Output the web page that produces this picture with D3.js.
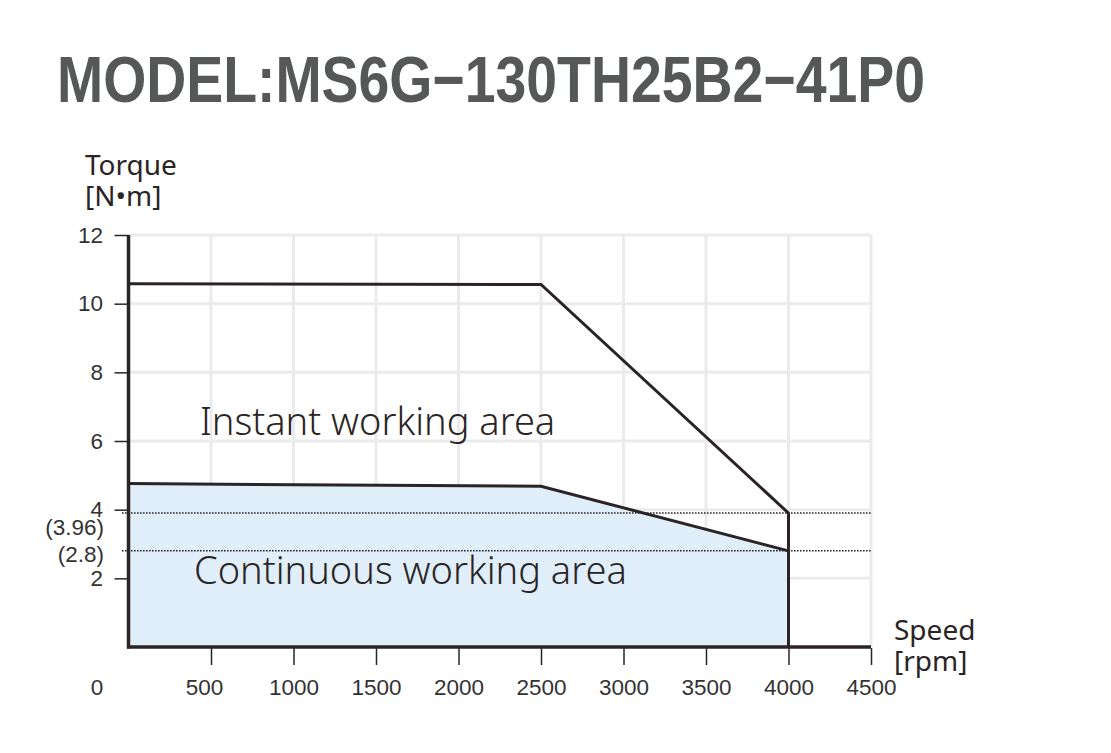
<!DOCTYPE html>
<html>
<head>
<meta charset="utf-8">
<script src="https://cdn.jsdelivr.net/npm/d3@7"></script>
<style>
  body { margin: 0; background: #fff; }
  svg { display: block; }
</style>
</head>
<body>
<svg id="chart" width="1111" height="753"></svg>
<script>
// data
const speedTicks = [500, 1000, 1500, 2000, 2500, 3000, 3500, 4000, 4500];
const torqueTicks = [2, 4, 6, 8, 10, 12];
const instantSpeed = [0, 2500, 4000, 4000];
const instantTorque = [10.58, 10.56, 3.9, 0];
const contSpeed = [0, 2500, 4000];
const contTorque = [4.76, 4.68, 2.8];
const markTorque = [3.9, 2.8];
const markLabels = ["(3.96)", "(2.8)"];

const svg = d3.select("#chart");
const x = d3.scaleLinear().domain([0, 4500]).range([128.5, 871]);
const y = d3.scaleLinear().domain([0, 12]).range([647, 235]);
const ink = "#2b2425";
const labelFont = "'Liberation Sans', Arial, sans-serif";
const lightFont = "'Noto Sans', 'Open Sans', sans-serif";
const labelSize = 22.5;

// title, stretched a little upward to match the tall caps
svg.append("text")
  .attr("transform", "translate(57,102) scale(1,1.13)")
  .attr("font-family", labelFont).attr("font-weight", "bold")
  .attr("font-size", 58).attr("fill", "#555857")
  .attr("textLength", 868).attr("lengthAdjust", "spacingAndGlyphs")
  .text("MODEL:MS6G\u2212130TH25B2\u221241P0");

// grid
const grid = svg.append("g").attr("stroke", "#ebebeb").attr("stroke-width", 3);
grid.selectAll(".gx").data(speedTicks).join("line")
  .attr("x1", d => x(d)).attr("x2", d => x(d))
  .attr("y1", y(0)).attr("y2", y(12));
grid.selectAll(".gy").data(torqueTicks).join("line")
  .attr("x1", x(0)).attr("x2", x(4500))
  .attr("y1", d => y(d)).attr("y2", d => y(d));

// continuous area fill
const contPts = contSpeed.map((s, i) => [s, contTorque[i]]);
const area = d3.area().x(d => x(d[0])).y0(y(0)).y1(d => y(d[1]));
svg.append("path").datum(contPts).attr("d", area).attr("fill", "#dfeef9");

// dotted reference lines
svg.selectAll(".mark").data(markTorque).join("line")
  .attr("x1", 122).attr("x2", x(4500))
  .attr("y1", d => y(d)).attr("y2", d => y(d))
  .attr("stroke", ink).attr("stroke-width", 1.5).attr("stroke-dasharray", "1.6,1.4");

const line = d3.line().x(d => x(d[0])).y(d => y(d[1]));
svg.append("path").datum(instantSpeed.map((s, i) => [s, instantTorque[i]]))
  .attr("d", line).attr("fill", "none").attr("stroke", ink).attr("stroke-width", 3);
svg.append("path").datum(contPts)
  .attr("d", line).attr("fill", "none").attr("stroke", ink).attr("stroke-width", 3);

// axes
const xAxis = d3.axisBottom(x).tickValues(speedTicks).tickFormat(d3.format("d")).tickSize(17).tickPadding(14);
const gx = svg.append("g").attr("transform", `translate(0,${y(0) + 1})`).call(xAxis);
gx.select(".domain").remove();
gx.selectAll(".tick line").attr("stroke", ink).attr("stroke-width", 1.5);
gx.selectAll(".tick text").attr("font-family", labelFont).attr("font-size", labelSize).attr("fill", "#333")
  .attr("dx", d => d === 500 ? -7 : 0);
svg.append("text").attr("x", 97).attr("y", 695).attr("text-anchor", "middle")
  .attr("font-family", labelFont).attr("font-size", labelSize).attr("fill", "#333").text("0");

const yAxis = d3.axisLeft(y).tickValues(torqueTicks).tickSize(14).tickPadding(11.5);
const gy = svg.append("g").attr("transform", `translate(${x(0)},0)`).call(yAxis);
gy.select(".domain").remove();
gy.selectAll(".tick line").attr("stroke", ink).attr("stroke-width", 1.5);
gy.selectAll(".tick text").attr("font-family", labelFont).attr("font-size", labelSize).attr("fill", "#333");

svg.append("line").attr("x1", x(0)).attr("x2", x(0)).attr("y1", y(12)).attr("y2", y(0) + 1.5)
  .attr("stroke", ink).attr("stroke-width", 3.5);
svg.append("line").attr("x1", x(0) - 1.5).attr("x2", x(4500)).attr("y1", y(0)).attr("y2", y(0))
  .attr("stroke", ink).attr("stroke-width", 3.5);

svg.selectAll(".mlab").data(markLabels).join("text")
  .attr("x", 104).attr("y", (d, i) => y(markTorque[i]) + (i === 0 ? 22 : 11))
  .attr("text-anchor", "end")
  .attr("font-family", labelFont).attr("font-size", labelSize).attr("fill", "#333")
  .text(d => d);

// axis titles and area labels
const txt = (t, xx, yy, size, w) => svg.append("text").attr("x", xx).attr("y", yy)
  .attr("font-family", lightFont).attr("font-weight", w)
  .attr("font-size", size).attr("fill", "#2b2425").text(t);
txt("Torque", 85, 175, 28, 400);
txt("[N\u2022m]", 85, 206, 28, 400);
txt("Speed", 894, 640, 28, 400);
txt("[rpm]", 894, 671, 28, 400);
txt("Instant working area", 200, 435, 38, 300);
txt("Continuous working area", 194, 584, 38, 300);
</script>
</body>
</html>
